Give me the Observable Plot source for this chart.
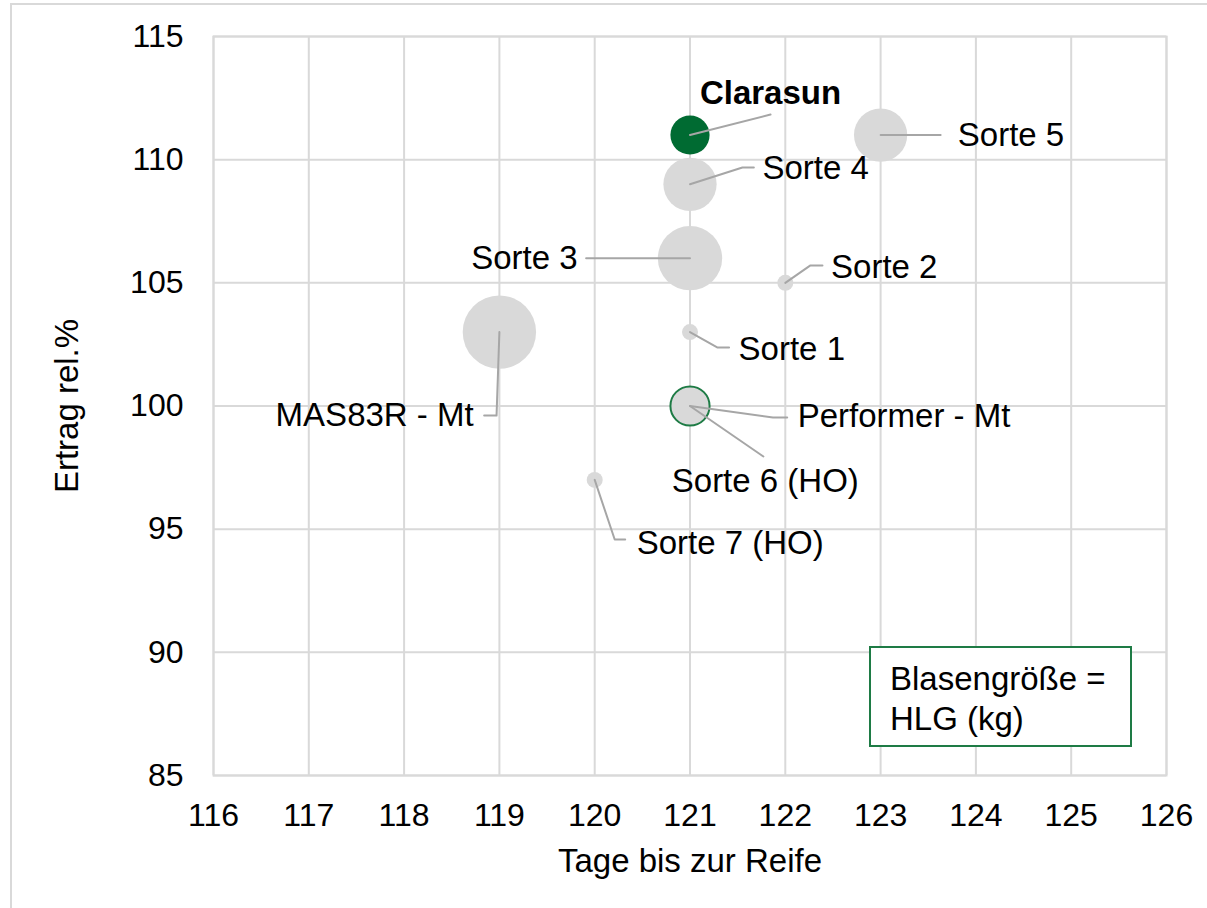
<!DOCTYPE html>
<html><head><meta charset="utf-8">
<script src="https://cdn.jsdelivr.net/npm/d3@7"></script>
<script src="https://cdn.jsdelivr.net/npm/@observablehq/plot@0.6"></script>
<style>
body{margin:0;background:#fff;font-family:"Liberation Sans",Arial,sans-serif;}
#wrap{position:relative;width:1207px;height:908px;overflow:hidden;}
#border{position:absolute;left:10px;top:3px;width:1300px;height:1000px;border:2px solid #d9d9d9;box-sizing:border-box;}
#chart{position:absolute;left:0;top:0;}
#legend{position:absolute;left:869px;top:646px;width:263px;height:101px;box-sizing:border-box;border:2px solid #1e7b45;background:#fff;padding:11px 0 0 19px;font-size:33px;line-height:40px;color:#000;white-space:nowrap;}
</style></head>
<body>
<div id="wrap"><div id="border"></div><div id="chart"></div>
<div id="legend">Blasengröße =<br>HLG (kg)</div></div>
<script>
// Data
const sorten = ["Clarasun","Sorte 5","Sorte 4","Sorte 3","Sorte 2","Sorte 1","MAS83R - Mt","Sorte 6 (HO)","Performer - Mt","Sorte 7 (HO)"];
const tage   = [121, 123, 121, 121, 122, 121, 119, 121, 121, 120];
const ertrag = [111, 111, 109, 106, 105, 103, 103, 100, 100, 97];
const hlg    = [41.3, 42.7, 42.7, 43.8, 39.0, 39.0, 44.7, 40.5, 41.3, 39.0];
const xTicks = [116,117,118,119,120,121,122,123,124,125,126];
const yTicks = [85,90,95,100,105,110,115];

// Label layout (data units)
const labelX      = [121.845, 123.81, 121.76, 119.82, 122.48, 121.51, 118.73, 121.79, 122.13, 120.44];
const labelY      = [112.69, 111, 109.64, 106, 105.62, 102.29, 99.61, 96.93, 99.57, 94.41];
const labelAnchor = ["middle","start","start","end","start","start","end","middle","start","start"];
const leaderMidX  = [null, null, 121.55, null, 122.26, 121.29, 118.97, null, 121.87, 120.21];
const leaderMidY  = [null, null, 109.68, null, 105.70, 102.37, 99.61, null, 99.53, 94.58];
const leaderEndX  = [121.845, 123.63, 121.67, 119.91, 122.39, 121.41, 118.84, 121.77, 122.02, 120.32];
const leaderEndY  = [111.83, 111, 109.68, 106, 105.70, 102.37, 99.61, 97.95, 99.53, 94.58];

const rows = sorten.map((s,i)=>({sorte:s, tage:tage[i], ertrag:ertrag[i], hlg:hlg[i],
  lx:labelX[i], ly:labelY[i], anchor:labelAnchor[i]}));
const leaders = [];
sorten.forEach((s,i)=>{
  leaders.push({sorte:s, x:tage[i], y:ertrag[i]});
  if (leaderMidX[i] !== null) leaders.push({sorte:s, x:leaderMidX[i], y:leaderMidY[i]});
  leaders.push({sorte:s, x:leaderEndX[i], y:leaderEndY[i]});
});

const grey = "#d9d9d9";
const FS = 33;
const textOpts = (anchor, extra={}) => ({x:"lx", y:"ly", text:"sorte", textAnchor:anchor, lineAnchor:"middle", fill:"#000", fontSize:FS, ...extra});

const chart = Plot.plot({
  width:1207, height:908,
  marginLeft:213, marginTop:36, marginRight:41, marginBottom:133,
  style:{fontFamily:'"Liberation Sans", Arial, sans-serif', fontSize:"32px", color:"#000", background:"transparent", overflow:"visible"},
  x:{domain:[116,126]},
  y:{domain:[85,115]},
  r:{type:"linear", domain:[39,44.7], range:[8,36.7]},
  marks:[
    Plot.gridX(xTicks, {stroke:grey, strokeOpacity:1, strokeWidth:2}),
    Plot.gridY(yTicks, {stroke:grey, strokeOpacity:1, strokeWidth:2}),
    Plot.frame({stroke:grey, strokeWidth:2}),
    Plot.axisX(xTicks, {tickSize:0, tickPadding:28, fontSize:32, label:null, fill:"#000"}),
    Plot.axisY(yTicks, {tickSize:0, tickPadding:30, fontSize:32, label:null, fill:"#000"}),
    Plot.text(["Tage bis zur Reife"], {frameAnchor:"bottom", textAnchor:"middle", lineAnchor:"middle", dy:86, fontSize:FS, fill:"#000"}),
    Plot.text(["Ertrag rel.%"], {frameAnchor:"left", textAnchor:"middle", lineAnchor:"middle", dx:-146, rotate:-90, fontSize:FS, fill:"#000"}),
    Plot.dot(rows.filter(d=>d.sorte!=="Clarasun" && d.sorte!=="Performer - Mt"), {x:"tage", y:"ertrag", r:"hlg", fill:grey, stroke:null}),
    Plot.dot(rows.filter(d=>d.sorte==="Clarasun"), {x:"tage", y:"ertrag", r:"hlg", fill:"#006b32"}),
    Plot.dot(rows.filter(d=>d.sorte==="Performer - Mt"), {x:"tage", y:"ertrag", r:"hlg", fill:grey, stroke:"#1e7b45", strokeWidth:2}),
    Plot.line(leaders, {x:"x", y:"y", z:"sorte", stroke:"#a6a6a6", strokeWidth:2}),
    Plot.text(rows.filter(d=>d.anchor==="start"), textOpts("start")),
    Plot.text(rows.filter(d=>d.anchor==="end"), textOpts("end")),
    Plot.text(rows.filter(d=>d.anchor==="middle" && d.sorte!=="Clarasun"), textOpts("middle")),
    Plot.text(rows.filter(d=>d.sorte==="Clarasun"), textOpts("middle", {fontWeight:"bold"}))
  ]
});
document.getElementById("chart").appendChild(chart);
</script>
</body></html>
